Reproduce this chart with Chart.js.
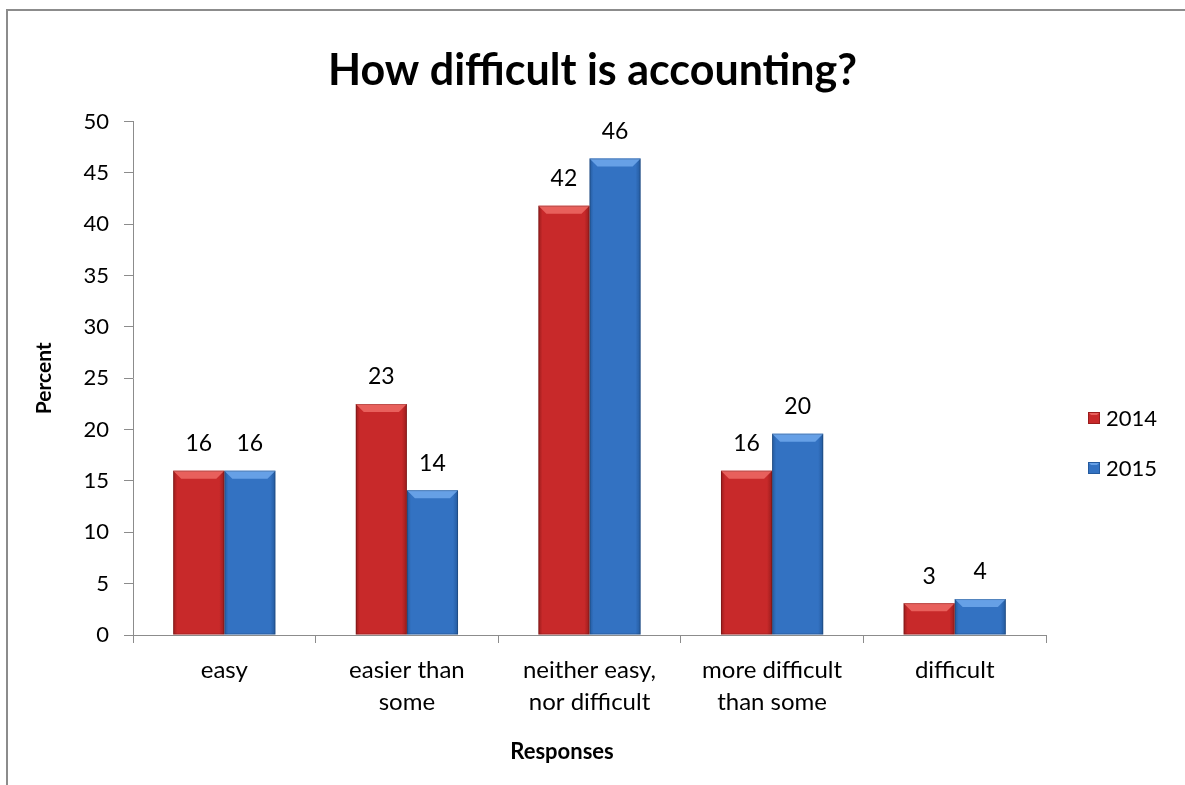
<!DOCTYPE html>
<html>
<head>
<meta charset="utf-8">
<script src="https://cdn.jsdelivr.net/npm/chart.js@4"></script>
<style>
  html, body { margin: 0; padding: 0; background: #fff; }
  #wrap { position: relative; width: 1185px; height: 785px; overflow: hidden; }
  #frame { position: absolute; left: 6px; top: 9px; width: 1400px; height: 1000px;
           border-left: 2px solid #8c8c8c; border-top: 2px solid #8c8c8c; box-sizing: border-box; }
  canvas { position: absolute; left: 0; top: 0; }
</style>
</head>
<body>
<div id="wrap">
  <div id="frame"></div>
  <canvas id="c" width="1185" height="785"></canvas>
</div>
<script>
const categories = [["easy"], ["easier than", "some"], ["neither easy,", "nor difficult"], ["more difficult", "than some"], ["difficult"]];
const seriesNames = ["2014", "2015"];
const values2014 = [16.0, 22.5, 41.8, 16.0, 3.1];
const values2015 = [16.0, 14.1, 46.4, 19.6, 3.5];
const yMin = 0, yMax = 50, yStep = 5;
const chartTitle = "How difficult is accounting?";
const yTitle = "Percent";
const xTitle = "Responses";

const FONT = "Lato, 'Open Sans', sans-serif";
const palette = [
  { base: "#c8292a", dark: "#9a1c1c", light: "#e8605c" },
  { base: "#3372c2", dark: "#245a9e", light: "#66a0e6" }
];
const CAT_PCT = 0.56;

function barGradient(ctx) {
  const chart = ctx.chart;
  const p = palette[ctx.datasetIndex];
  const xs = chart.scales.x;
  if (!xs || !chart.chartArea || ctx.dataIndex === undefined) return p.base;
  const center = xs.getPixelForValue(ctx.dataIndex);
  const cw = xs.width / categories.length;
  const w = cw * CAT_PCT / 2;
  const left = ctx.datasetIndex === 0 ? center - w : center;
  const g = chart.ctx.createLinearGradient(left, 0, left + w, 0);
  g.addColorStop(0, p.dark);
  g.addColorStop(0.08, p.base);
  g.addColorStop(0.9, p.base);
  g.addColorStop(1, p.dark);
  return g;
}

const bevelPlugin = {
  id: "bevel",
  afterDatasetsDraw(chart) {
    const ctx = chart.ctx;
    chart.data.datasets.forEach((ds, di) => {
      const meta = chart.getDatasetMeta(di);
      const p = palette[di];
      meta.data.forEach((bar) => {
        const l = bar.x - bar.width / 2, r = bar.x + bar.width / 2, t = bar.y;
        const h = Math.min(8, bar.base - bar.y);
        ctx.save();
        ctx.fillStyle = p.light;
        ctx.beginPath();
        ctx.moveTo(l, t); ctx.lineTo(r, t); ctx.lineTo(r - h, t + h); ctx.lineTo(l + h, t + h);
        ctx.closePath(); ctx.fill();
        ctx.strokeStyle = "rgba(0,0,0,0.18)";
        ctx.lineWidth = 1;
        ctx.strokeRect(l + 0.5, t + 0.5, bar.width - 1, bar.base - bar.y - 1);
        ctx.restore();
      });
    });
  }
};

const labelPlugin = {
  id: "valueLabels",
  afterDatasetsDraw(chart) {
    const ctx = chart.ctx;
    ctx.save();
    ctx.font = "23px " + FONT;
    ctx.fillStyle = "#000";
    ctx.textAlign = "center";
    ctx.textBaseline = "middle";
    chart.data.datasets.forEach((ds, di) => {
      const meta = chart.getDatasetMeta(di);
      meta.data.forEach((bar, i) => {
        ctx.fillText(String(Math.round(ds.data[i])), bar.x, bar.y - 27);
      });
    });
    ctx.restore();
  }
};

const extrasPlugin = {
  id: "extras",
  afterDraw(chart) {
    const ctx = chart.ctx;
    ctx.save();
    ctx.font = "bold 22px " + FONT;
    ctx.fillStyle = "#000";
    ctx.textAlign = "center";
    ctx.textBaseline = "middle";
    ctx.fillText(xTitle, 562, 752);
    ctx.font = "22px " + FONT;
    ctx.textAlign = "left";
    seriesNames.forEach((name, i) => {
      const y = 418 + i * 50;
      const x = 1088;
      const p = palette[i];
      ctx.fillStyle = p.base;
      ctx.fillRect(x, y - 6, 12, 12);
      ctx.fillStyle = p.light;
      ctx.beginPath();
      ctx.moveTo(x, y - 6); ctx.lineTo(x + 12, y - 6); ctx.lineTo(x + 9, y - 3); ctx.lineTo(x + 3, y - 3);
      ctx.closePath(); ctx.fill();
      ctx.strokeStyle = p.dark; ctx.lineWidth = 1;
      ctx.strokeRect(x + 0.5, y - 5.5, 11, 11);
      ctx.fillStyle = "#000";
      ctx.fillText(name, x + 18, y + 1);
    });
    ctx.restore();
  }
};

new Chart(document.getElementById("c"), {
  type: "bar",
  data: {
    labels: categories,
    datasets: [
      { label: seriesNames[0], data: values2014, backgroundColor: barGradient, borderWidth: 0 },
      { label: seriesNames[1], data: values2015, backgroundColor: barGradient, borderWidth: 0 }
    ]
  },
  plugins: [bevelPlugin, labelPlugin, extrasPlugin],
  options: {
    responsive: false,
    animation: false,
    devicePixelRatio: 1,
    layout: { padding: 0 },
    datasets: { bar: { categoryPercentage: CAT_PCT, barPercentage: 1.0 } },
    plugins: {
      legend: { display: false },
      tooltip: { enabled: false },
      title: {
        display: true,
        text: chartTitle,
        color: "#000",
        font: { family: FONT, size: 43, weight: "bold", lineHeight: 1.2 },
        padding: { top: 45, bottom: 25 }
      }
    },
    scales: {
      x: {
        grid: { display: true, offset: true, drawOnChartArea: false, drawTicks: true, tickLength: 8, color: "#8c8c8c" },
        border: { display: true, color: "#8c8c8c", width: 1 },
        ticks: { color: "#000", font: { family: FONT, size: 24, lineHeight: 1.3333 }, padding: 11, maxRotation: 0, autoSkip: false },
        title: { display: false },
        afterFit(scale) { scale.height = 150; }
      },
      y: {
        min: yMin, max: yMax,
        grid: { display: true, drawOnChartArea: false, drawTicks: true, tickLength: 9, color: "#8c8c8c" },
        border: { display: true, color: "#8c8c8c", width: 1 },
        ticks: { stepSize: yStep, color: "#000", font: { family: FONT, size: 22 }, padding: 15 },
        title: { display: true, text: yTitle, color: "#000", font: { family: FONT, size: 21, weight: "bold", lineHeight: 1.2 }, padding: { top: 32, bottom: 0 } },
        afterFit(scale) { scale.width = 133; }
      },
      spacer: {
        type: "linear",
        position: "right",
        display: true,
        min: 0, max: 1,
        grid: { display: false },
        border: { display: false },
        ticks: { display: false },
        title: { display: false },
        afterFit(scale) { scale.width = 139; }
      }
    }
  }
});
</script>
</body>
</html>
